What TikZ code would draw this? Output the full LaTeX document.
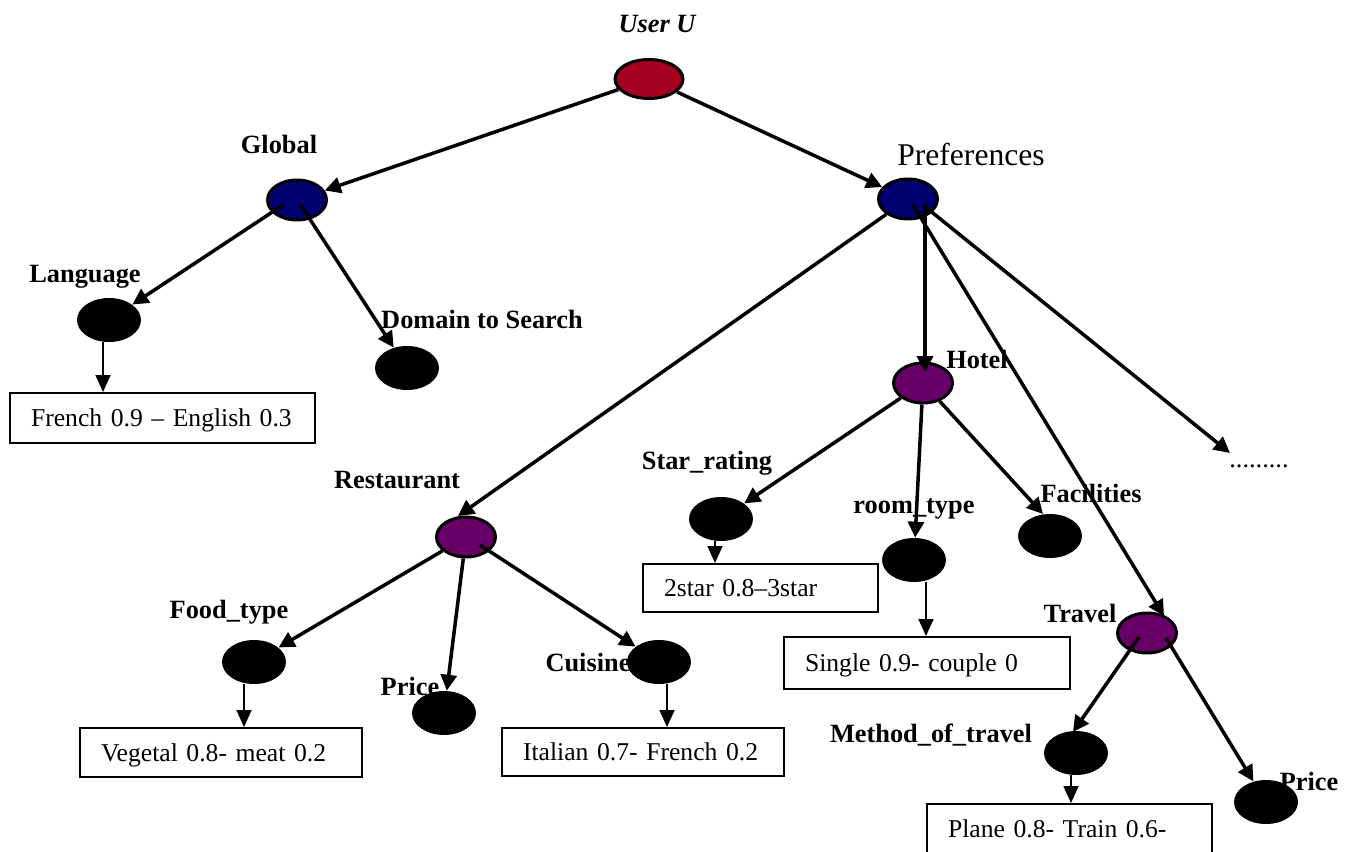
\documentclass[tikz,border=0pt]{standalone}
\usepackage{fontspec}
\setmainfont{Liberation Serif}
\usetikzlibrary{shapes.geometric,arrows.meta}
\definecolor{userred}{HTML}{A50021}
\definecolor{prefnavy}{HTML}{000070}
\definecolor{catpurple}{HTML}{660066}
\begin{document}
\begin{tikzpicture}[x=0.02cm,y=-0.02cm,
  font=\fontsize{15}{18}\selectfont,
  rootnode/.style={ellipse,draw=black,line width=0.06cm,fill=userred,
    minimum width=1.36cm,minimum height=0.78cm,inner sep=0pt},
  midnode/.style={ellipse,draw=black,line width=0.06cm,
    minimum width=1.18cm,minimum height=0.8cm,inner sep=0pt},
  leafnode/.style={ellipse,fill=black,minimum width=1.28cm,
    minimum height=0.88cm,inner sep=0pt},
  lbl/.style={font=\fontsize{15}{18}\selectfont\bfseries,anchor=base,inner sep=0pt},
  valbox/.style={draw=black,line width=0.04cm,align=left,inner xsep=0.42cm,
    inner ysep=0pt,text height=13pt,text depth=3pt,
    font=\fontsize{14.6}{18}\selectfont},
  link/.style={line width=0.07cm,-{Triangle[length=0.32cm,width=0.32cm]}},
  leaflink/.style={line width=0.034cm,-{Triangle[length=0.34cm,width=0.3cm]}},
]
\useasboundingbox (0,0) rectangle (1347,852);
\clip (0,0) rectangle (1347,852);

% tree nodes
\node[rootnode] (user) at (649,79) {};
\node[midnode,fill=prefnavy] (global) at (297,200) {};
\node[midnode,fill=prefnavy] (pref) at (908,199) {};
\node[midnode,fill=catpurple] (hotel) at (923,383) {};
\node[midnode,fill=catpurple] (rest) at (466,537) {};
\node[midnode,fill=catpurple] (travel) at (1147,633) {};
\node[leafnode] (lang) at (109,320) {};
\node[leafnode] (domain) at (407,368) {};
\node[leafnode] (star) at (721,519) {};
\node[leafnode] (room) at (914,560) {};
\node[leafnode] (facil) at (1050,536) {};
\node[leafnode] (food) at (254,662) {};
\node[leafnode] (rprice) at (444,713) {};
\node[leafnode] (cuisine) at (659,662) {};
\node[leafnode] (method) at (1076,753) {};
\node[leafnode] (tprice) at (1266,802) {};

% labels
\node[lbl,font=\fontsize{15}{18}\selectfont\bfseries\itshape] (userlbl) at (657,32) {User U};
\node[lbl] (globallbl) at (279,153) {Global};
\node[lbl,font=\fontsize{18}{22}\selectfont] (preflbl) at (971,165) {Preferences};
\node[lbl] (langlbl) at (85,282) {Language};
\node[lbl] (domainlbl) at (482,328) {Domain to Search};
\node[lbl] (hotellbl) at (977,368) {Hotel};
\node[lbl] (restlbl) at (397,488) {Restaurant};
\node[lbl] (starlbl) at (707,469) {Star\_rating};
\node[lbl] (roomlbl) at (914,513) {room\_type};
\node[lbl] (facillbl) at (1091,502) {Facilities};
\node[lbl] (travellbl) at (1080,622) {Travel};
\node[lbl] (foodlbl) at (229,618) {Food\_type};
\node[lbl] (rpricelbl) at (410,695) {Price};
\node[lbl] (cuisinelbl) at (588,671) {Cuisine};
\node[lbl] (methodlbl) at (931,742) {Method\_of\_travel};
\node[lbl] (tpricelbl) at (1309,790) {Price};
\node[anchor=base west,inner sep=0pt] (dots) at (1229,467) {.........};

% value boxes
\node[valbox,text width=5.26cm,minimum height=1cm] (french) at (162.5,418) {\mbox{French 0.9 – English 0.3}};
\node[valbox,text width=4.8cm,minimum height=0.98cm] (veg) at (221,752.5) {\mbox{Vegetal 0.8- meat 0.2}};
\node[valbox,text width=4.8cm,minimum height=0.96cm] (italian) at (643,752) {\mbox{Italian 0.7- French 0.2}};
\node[valbox,text width=3.86cm,minimum height=0.96cm] (stars) at (760.5,588) {\mbox{2star 0.8–3star}};
\node[valbox,text width=4.88cm,minimum height=1.04cm] (single) at (927,663) {\mbox{Single 0.9- couple 0}};
\node[valbox,text width=4.86cm,minimum height=1cm] (plane) at (1069.5,829) {\mbox{Plane 0.8- Train 0.6-}};

% tree edges
\draw[link] (user) -- (global);
\draw[link] (user) -- (pref);
\draw[link] ([shift={(-14,5)}]global.center) -- (lang);
\draw[link] ([shift={(3,4)}]global.center) -- (domain);
\draw[link] (pref) -- ([shift={(-8,-21)}]rest.center);
\draw[link] ([shift={(17,6)}]pref.center) -- ([shift={(2,-11)}]hotel.center);
\draw[link] ([shift={(5,6)}]pref.center) -- ([shift={(17,-17)}]travel.center);
\draw[link] ([shift={(15,6)}]pref.center) -- ([shift={(1,-14)}]dots.base west);
\draw[link] (hotel) -- (star);
\draw[link] (hotel) -- (room);
\draw[link] (hotel) -- ([shift={(-7,-22)}]facil.center);
\draw[link] (rest) -- (food);
\draw[link] (rest) -- (rprice);
\draw[link] ([shift={(14,8)}]rest.center) -- (cuisine);
\draw[link] ([shift={(-8,4)}]travel.center) -- ([shift={(-3,-21)}]method.center);
\draw[link] ([shift={(19,5)}]travel.center) -- (tprice);

% leaf value edges
\coordinate (langfoot) at ([xshift=-0.12cm]lang.south);
\coordinate (starfoot) at ([xshift=-0.12cm]star.south);
\coordinate (roomfoot) at ([xshift=0.24cm]room.south);
\coordinate (foodfoot) at ([xshift=-0.2cm]food.south);
\coordinate (cuisinefoot) at ([xshift=0.16cm]cuisine.south);
\coordinate (methodfoot) at ([xshift=-0.1cm]method.south);
\draw[leaflink] (langfoot) -- (langfoot |- french.north);
\draw[leaflink] (starfoot) -- (starfoot |- stars.north);
\draw[leaflink] (roomfoot) -- (roomfoot |- single.north);
\draw[leaflink] (foodfoot) -- (foodfoot |- veg.north);
\draw[leaflink] (cuisinefoot) -- (cuisinefoot |- italian.north);
\draw[leaflink] (methodfoot) -- (methodfoot |- plane.north);
\end{tikzpicture}
\end{document}
